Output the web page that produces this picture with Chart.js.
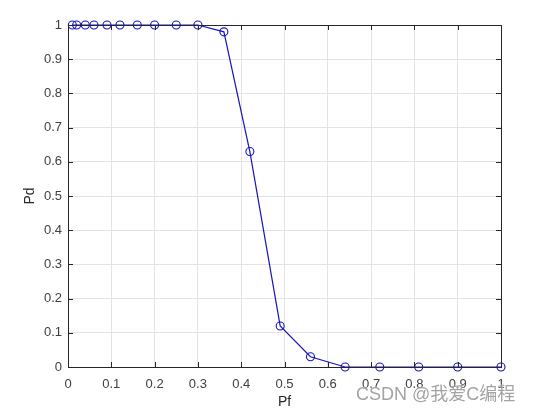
<!DOCTYPE html>
<html>
<head>
<meta charset="utf-8">
<script src="https://cdn.jsdelivr.net/npm/chart.js@4.4.0/dist/chart.umd.min.js"></script>
<style>
  html, body { margin: 0; padding: 0; background: #fff; }
  #wrap { position: relative; width: 549px; height: 411px; }
  #mark { position: absolute; left: 356px; top: 379px; font: 18px "Liberation Sans", Arial, "Noto Sans CJK SC", sans-serif;
    color: rgba(140,140,140,0.8); text-shadow: 0 0 2px #fff; white-space: nowrap; }
</style>
</head>
<body>
<div id="wrap">
  <canvas id="chart" width="549" height="411"></canvas>
  <div id="mark">CSDN @我爱C编程</div>
</div>
<script>
const pf = [0.01, 0.02, 0.04, 0.06, 0.09, 0.12, 0.16, 0.2, 0.25, 0.3, 0.36, 0.42, 0.49, 0.56, 0.64, 0.72, 0.81, 0.9, 1.0];
const pd = [1, 1, 1, 1, 1, 1, 1, 1, 1, 1, 0.98, 0.63, 0.12, 0.03, 0, 0, 0, 0, 0];
const ticks = [0, 0.1, 0.2, 0.3, 0.4, 0.5, 0.6, 0.7, 0.8, 0.9, 1];

const points = pf.map((x, i) => ({ x: x, y: pd[i] }));
const tickFont = { family: '"Liberation Sans", Arial, sans-serif', size: 13 };
const titleFont = { family: '"Liberation Sans", Arial, sans-serif', size: 14 };

// matlab style box and inward ticks
const boxPlugin = {
  id: 'box',
  afterDraw(chart) {
    const { ctx, chartArea: a, scales } = chart;
    ctx.save();
    ctx.strokeStyle = '#262626';
    ctx.lineWidth = 1;
    ctx.beginPath();
    ticks.forEach(t => {
      const x = Math.round(scales.x.getPixelForValue(t)) + 0.5;
      ctx.moveTo(x, a.bottom); ctx.lineTo(x, a.bottom - 5);
      ctx.moveTo(x, a.top); ctx.lineTo(x, a.top + 5);
      const y = Math.round(scales.y.getPixelForValue(t)) + 0.5;
      ctx.moveTo(a.left, y); ctx.lineTo(a.left + 5, y);
      ctx.moveTo(a.right, y); ctx.lineTo(a.right - 5, y);
    });
    ctx.stroke();
    ctx.strokeRect(Math.round(a.left) + 0.5, Math.round(a.top) + 0.5,
      Math.round(a.right - a.left), Math.round(a.bottom - a.top));
    ctx.restore();
  }
};

new Chart(document.getElementById('chart'), {
  type: 'scatter',
  data: {
    datasets: [{
      data: points,
      showLine: true,
      borderColor: '#1515c0',
      borderWidth: 1.2,
      pointStyle: 'circle',
      pointRadius: 4,
      pointBorderWidth: 1.1,
      pointBackgroundColor: 'rgba(0,0,0,0)',
      pointBorderColor: '#1515c0',
      clip: false
    }]
  },
  options: {
    responsive: false,
    animation: false,
    layout: { padding: { top: 25, right: 48, left: 22, bottom: 0 } },
    plugins: { legend: { display: false }, tooltip: { enabled: false } },
    scales: {
      x: {
        type: 'linear', min: 0, max: 1,
        afterBuildTicks: s => { s.ticks = ticks.map(v => ({ value: v })); },
        afterFit: s => { s.height = 44; },
        grid: { color: '#e3e3e3', drawTicks: false },
        border: { display: false },
        ticks: { font: tickFont, color: '#404040', padding: 10, maxRotation: 0,
          callback: v => String(v) },
        title: { display: true, text: 'Pf', font: titleFont,
          color: '#262626', padding: { top: 0, bottom: 0 } }
      },
      y: {
        type: 'linear', min: 0, max: 1,
        afterBuildTicks: s => { s.ticks = ticks.map(v => ({ value: v })); },
        afterFit: s => { s.width = 46; },
        grid: { color: '#e3e3e3', drawTicks: false },
        border: { display: false },
        ticks: { font: tickFont, color: '#404040', padding: 6,
          callback: v => String(v) },
        title: { display: true, text: 'Pd', font: titleFont,
          color: '#262626', padding: { top: 0, bottom: 0 } }
      }
    }
  },
  plugins: [boxPlugin]
});
</script>
</body>
</html>
